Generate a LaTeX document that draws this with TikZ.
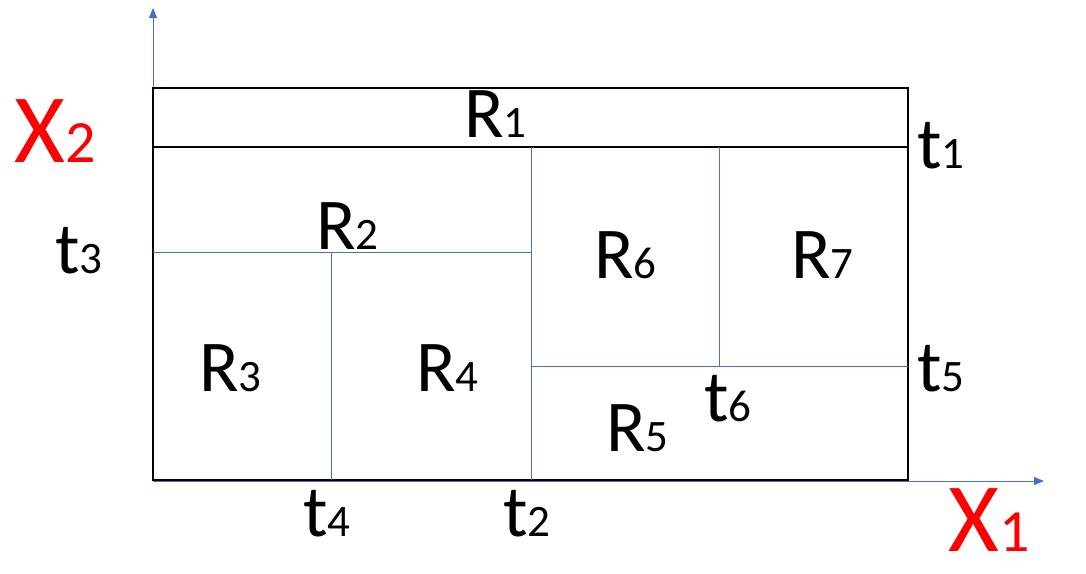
\documentclass[tikz,border=0pt]{standalone}
\usepackage{fontspec}
\setmainfont{Carlito}
\usetikzlibrary{arrows.meta}
\definecolor{axisblue}{HTML}{4472C4}
\definecolor{xred}{HTML}{FF0000}
\newcommand{\lbl}[2]{#1{\fontsize{45}{45}\selectfont #2}}
\newcommand{\xlbl}[2]{#1{\fontsize{60}{60}\selectfont #2}}
\tikzset{
  lab/.style={anchor=base west, inner sep=0pt, font=\fontsize{73}{73}\selectfont},
  axlab/.style={anchor=base west, inner sep=0pt, text depth=0pt, text=xred, font=\fontsize{98}{98}\selectfont},
  axis/.style={draw=axisblue, line width=1pt, -{Triangle[length=10pt,width=8pt]}},
  outer/.style={draw=black, line width=2pt},
  split/.style={draw=axisblue, line width=0.9pt},
  topsplit/.style={draw=black, line width=1.4pt}
}
\begin{document}
\begin{tikzpicture}[x=1pt,y=-1pt]
\useasboundingbox (0,0) rectangle (1086,573);
% corners
\coordinate (O) at (153,480);
\coordinate (TL) at (153,88);
\coordinate (TR) at (908,88);
\coordinate (BR) at (908,480);
\coordinate (yend) at (153,8);
\coordinate (xend) at (1044,481);
% axes
\draw[axis] (153,481) -- (yend);
\draw[axis] (153,481) -- (xend);
% outer box
\draw[outer] (TL) rectangle (BR);
% t1 split
\coordinate (t1l) at (153,147);
\coordinate (t1r) at (908,147);
\draw[topsplit] (t1l) -- (t1r);
% t2 split
\coordinate (t2t) at (531,147);
\coordinate (t2b) at (531,480);
\draw[split] (t2t) -- (t2b);
% t3 split
\coordinate (t3l) at (153,252);
\coordinate (t3r) at (531,252);
\draw[split] (t3l) -- (t3r);
% t4 split
\coordinate (t4t) at (331,252);
\coordinate (t4b) at (331,480);
\draw[split] (t4t) -- (t4b);
% t5 split
\coordinate (t5l) at (531,366);
\coordinate (t5r) at (908,366);
\draw[split] (t5l) -- (t5r);
% t6 split
\coordinate (t6t) at (719,147);
\coordinate (t6b) at (719,366);
\draw[split] (t6t) -- (t6b);
% region labels
\node[lab] (R1) at (464,137) {\lbl{R}{1}};
\node[lab] (R2) at (316,249) {\lbl{R}{2}};
\node[lab] (R3) at (199,391) {\lbl{R}{3}};
\node[lab] (R4) at (416,391) {\lbl{R}{4}};
\node[lab] (R5) at (606,451) {\lbl{R}{5}};
\node[lab] (R6) at (594,278) {\lbl{R}{6}};
\node[lab] (R7) at (791,278) {\lbl{R}{7}};
% threshold labels
\node[lab] (t1) at (917,168) {\lbl{t}{1}};
\node[lab] (t3) at (55,273) {\lbl{t}{3}};
\node[lab] (t5) at (917,391) {\lbl{t}{5}};
\node[lab] (t6) at (704,421) {\lbl{t}{6}};
\node[lab] (t4) at (303,536) {\lbl{t}{4}};
\node[lab] (t2) at (503,536) {\lbl{t}{2}};
% axis labels
\node[axlab] (X2) at (14,162) {\xlbl{X}{2}};
\node[axlab] (X1) at (948,551) {\xlbl{X}{1}};
\end{tikzpicture}
\end{document}
